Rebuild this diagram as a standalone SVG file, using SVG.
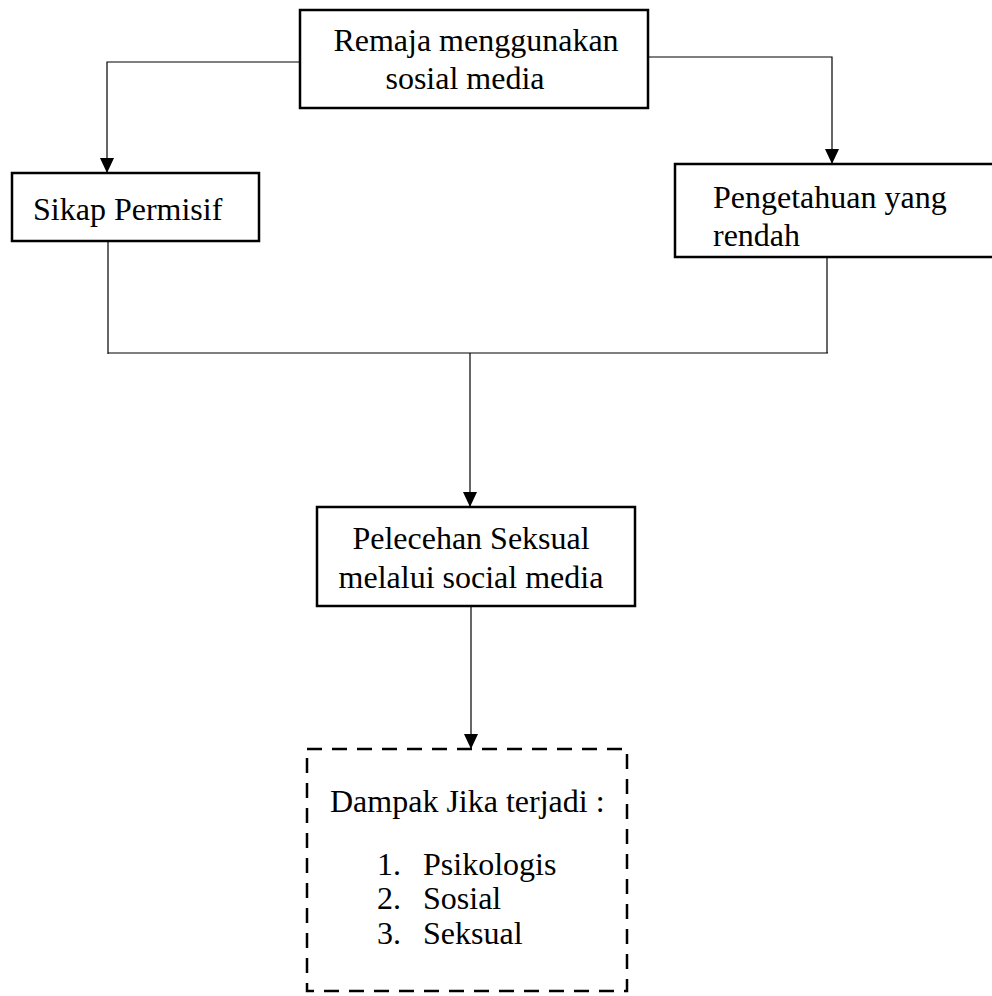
<svg xmlns="http://www.w3.org/2000/svg" width="992" height="996" viewBox="0 0 992 996">
<style>
  .box { fill: #ffffff; stroke: #000000; stroke-width: 2.5; }
  .dash { fill: none; stroke: #000000; stroke-width: 2.5; stroke-dasharray: 15 10; }
  .conn { fill: none; stroke: #000000; stroke-width: 1.2; }
  text { font-family: "Liberation Serif", "Times New Roman", serif; font-size: 32px; fill: #000000; }
</style>
<defs>
  <marker id="arrow" markerUnits="userSpaceOnUse" markerWidth="15" markerHeight="14" viewBox="0 0 15 14" refX="15" refY="7" orient="auto">
    <path d="M0,0 L15,7 L0,14 Z" fill="#000000"/>
  </marker>
</defs>
<rect width="992" height="996" fill="#ffffff"/>
<g id="connectors">
  <path class="conn" d="M300,62 H107 V173" marker-end="url(#arrow)"/>
  <path class="conn" d="M648,57 H832 V164" marker-end="url(#arrow)"/>
  <path class="conn" d="M108,240 V354"/>
  <path class="conn" d="M827,257 V353"/>
  <path class="conn" d="M108,353 H828"/>
  <path class="conn" d="M470,353 V507" marker-end="url(#arrow)"/>
  <path class="conn" d="M471,606 V749" marker-end="url(#arrow)"/>
</g>
<g id="node-remaja">
  <rect class="box" x="300" y="10" width="348" height="98"/>
  <text x="476" y="51" text-anchor="middle">Remaja menggunakan</text>
  <text x="465" y="89" text-anchor="middle">sosial media</text>
</g>
<g id="node-sikap">
  <rect class="box" x="12" y="173" width="247" height="68"/>
  <text x="33" y="220">Sikap Permisif</text>
</g>
<g id="node-pengetahuan">
  <rect class="box" x="675" y="164" width="340" height="93"/>
  <text x="713" y="208">Pengetahuan yang</text>
  <text x="713" y="246">rendah</text>
</g>
<g id="node-pelecehan">
  <rect class="box" x="317" y="507" width="318" height="99"/>
  <text x="471" y="549" text-anchor="middle">Pelecehan Seksual</text>
  <text x="471" y="588" text-anchor="middle">melalui social media</text>
</g>
<g id="node-dampak">
  <rect class="dash" x="307" y="749" width="320" height="242"/>
  <text x="330" y="812">Dampak Jika terjadi :</text>
  <text x="377" y="875">1.</text>
  <text x="423" y="875">Psikologis</text>
  <text x="377" y="909">2.</text>
  <text x="423" y="909">Sosial</text>
  <text x="377" y="944">3.</text>
  <text x="423" y="944">Seksual</text>
</g>
</svg>
